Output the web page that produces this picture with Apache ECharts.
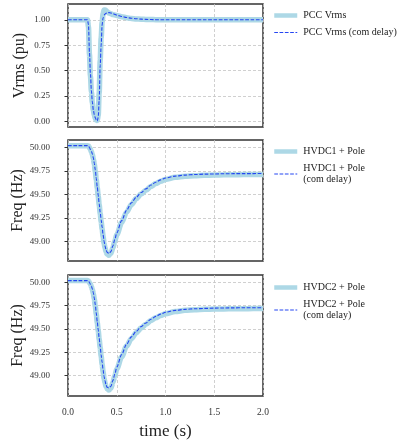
<!DOCTYPE html>
<html>
<head>
<meta charset="utf-8">
<script src="https://cdn.jsdelivr.net/npm/echarts@6/dist/echarts.min.js"></script>
<style>
  html, body { margin: 0; padding: 0; background: #fff; }
  #chart { width: 406px; height: 441px; }
</style>
</head>
<body>
<div id="chart"></div>
<script>
// Simulation time (s)
const time = [0, 0.1, 0.2, 0.21, 0.22, 0.23, 0.24, 0.25, 0.26, 0.27, 0.28, 0.29, 0.30,
  0.31, 0.32, 0.33, 0.34, 0.35, 0.36, 0.37, 0.38, 0.39, 0.40, 0.42, 0.44, 0.46, 0.48, 0.50,
  0.55, 0.60, 0.65, 0.70, 0.75, 0.80, 0.85, 0.90, 0.95, 1.00,
  1.10, 1.20, 1.30, 1.40, 1.50, 1.60, 1.70, 1.80, 1.90, 2.00];

// PCC RMS voltage (pu)
const vrms = [1.0, 1.0, 1.0, 0.93, 0.66, 0.45, 0.29, 0.18, 0.11, 0.06, 0.03, 0.012, 0.01,
  0.06, 0.28, 0.60, 0.82, 0.98, 1.06, 1.095, 1.097, 1.09, 1.08, 1.066, 1.058, 1.052, 1.047, 1.042,
  1.03, 1.02, 1.013, 1.008, 1.005, 1.003, 1.002, 1.001, 1.0, 1.0,
  1.0, 1.0, 1.0, 1.0, 1.0, 1.0, 1.0, 1.0, 1.0, 1.0];
const vrmsDelay = [1.0, 1.0, 1.0, 0.95, 0.68, 0.47, 0.30, 0.19, 0.11, 0.065, 0.035, 0.015, 0.005,
  0.04, 0.21, 0.55, 0.75, 0.95, 1.02, 1.045, 1.056, 1.064, 1.069, 1.07, 1.066, 1.06, 1.053, 1.046,
  1.032, 1.022, 1.015, 1.01, 1.006, 1.004, 1.002, 1.001, 1.0, 1.0,
  1.0, 1.0, 1.0, 1.0, 1.0, 1.0, 1.0, 1.0, 1.0, 1.0];

// HVDC1 + Pole frequency (Hz)
const freq1 = [50.02, 50.02, 50.02, 50.015, 50.0, 49.98, 49.955, 49.925, 49.88, 49.82, 49.745, 49.66, 49.57,
  49.48, 49.39, 49.30, 49.21, 49.13, 49.05, 48.98, 48.93, 48.89, 48.865, 48.85, 48.87, 48.93, 49.0, 49.07,
  49.2, 49.31, 49.39, 49.455, 49.505, 49.545, 49.585, 49.615, 49.64, 49.66,
  49.682, 49.694, 49.70, 49.704, 49.707, 49.709, 49.71, 49.711, 49.712, 49.712];
const freq1Delay = [50.02, 50.02, 50.02, 50.015, 50.0, 49.98, 49.96, 49.93, 49.89, 49.83, 49.76, 49.67, 49.58,
  49.49, 49.40, 49.31, 49.23, 49.15, 49.07, 49.0, 48.95, 48.91, 48.885, 48.87, 48.89, 48.95, 49.02, 49.09,
  49.22, 49.33, 49.41, 49.47, 49.52, 49.56, 49.60, 49.63, 49.655, 49.675,
  49.695, 49.706, 49.712, 49.716, 49.718, 49.72, 49.721, 49.722, 49.722, 49.723];

// HVDC2 + Pole frequency (Hz)
const freq2 = [50.02, 50.02, 50.02, 50.015, 50.0, 49.98, 49.955, 49.925, 49.88, 49.82, 49.745, 49.66, 49.57,
  49.48, 49.39, 49.30, 49.21, 49.12, 49.04, 48.97, 48.92, 48.88, 48.86, 48.845, 48.865, 48.925, 48.995, 49.07,
  49.2, 49.315, 49.395, 49.46, 49.51, 49.55, 49.59, 49.62, 49.645, 49.665,
  49.688, 49.70, 49.707, 49.711, 49.714, 49.716, 49.717, 49.718, 49.719, 49.719];
const freq2Delay = [50.02, 50.02, 50.02, 50.015, 50.0, 49.98, 49.96, 49.93, 49.89, 49.83, 49.76, 49.67, 49.58,
  49.49, 49.40, 49.31, 49.22, 49.14, 49.06, 48.99, 48.94, 48.9, 48.875, 48.865, 48.885, 48.945, 49.015, 49.09,
  49.225, 49.335, 49.415, 49.475, 49.525, 49.565, 49.605, 49.635, 49.66, 49.68,
  49.70, 49.711, 49.717, 49.721, 49.724, 49.726, 49.727, 49.728, 49.728, 49.729];

// Axis ticks
const vrmsTicks = [0, 0.25, 0.5, 0.75, 1.0];
const freqTicks = [49.0, 49.25, 49.5, 49.75, 50.0];

const SERIF = '"Liberation Serif", "DejaVu Serif", serif';
const LIGHT = '#add8e6';
const BLUE = '#2546f2';
const DASH = [3.7, 1.6];
const zip = (ys) => time.map((t, i) => [t, ys[i]]);

const grids = [
  { left: 68, width: 195, top: 4, height: 123 },
  { left: 68, width: 195, top: 140, height: 121 },
  { left: 68, width: 195, top: 275, height: 122 }
].map(g => Object.assign(g, { show: true, borderColor: '#333', borderWidth: 1.5, backgroundColor: 'transparent' }));

const gridLine = { show: true, lineStyle: { color: '#c4c4c4', type: [3, 2], width: 0.8 } };

function xAxis(idx, showLabels) {
  return {
    type: 'value', gridIndex: idx, min: 0, max: 2, interval: 0.5,
    axisLine: { show: false },
    axisTick: { show: false },
    axisLabel: {
      show: showLabels, margin: 11, fontFamily: SERIF, fontSize: 9.5, color: '#333',
      formatter: v => v.toFixed(1)
    },
    splitLine: gridLine,
    name: showLabels ? 'time (s)' : '', nameLocation: 'middle', nameGap: 27,
    nameTextStyle: { fontFamily: SERIF, fontSize: 17, color: '#222' }
  };
}

function yAxis(idx, name, min, max, ticks) {
  return {
    type: 'value', gridIndex: idx, min: min, max: max,
    axisLine: { show: false },
    axisTick: { show: true, inside: false, length: 3.5, customValues: ticks, lineStyle: { color: '#333', width: 1 } },
    axisLabel: {
      customValues: ticks, margin: 18, fontFamily: SERIF, fontSize: 9, color: '#333',
      formatter: v => v.toFixed(2)
    },
    splitLine: gridLine,
    name: name, nameLocation: 'middle', nameGap: 40,
    nameTextStyle: { fontFamily: SERIF, fontSize: 16, color: '#222' }
  };
}

function solid(name, data, idx) {
  return {
    type: 'line', name: name, xAxisIndex: idx, yAxisIndex: idx, data: zip(data),
    symbol: 'none', smooth: 0.3, smoothMonotone: 'x',
    lineStyle: { color: LIGHT, width: 5.5 }, itemStyle: { color: LIGHT }, z: 2
  };
}
function dashed(name, data, idx) {
  return {
    type: 'line', name: name, xAxisIndex: idx, yAxisIndex: idx, data: zip(data),
    symbol: 'none', smooth: 0.3, smoothMonotone: 'x',
    lineStyle: { color: BLUE, width: 1.1, type: DASH }, itemStyle: { color: BLUE }, z: 3
  };
}

// Legend entries drawn as plain line samples in each series' style
function legend(top, solidName, dashedName) {
  return {
    data: [
      { name: solidName, icon: 'line', itemStyle: { color: LIGHT, borderColor: LIGHT, borderWidth: 4.5, borderType: 'solid' } },
      { name: dashedName, icon: 'line', itemStyle: { color: BLUE, borderColor: BLUE, borderWidth: 1.1, borderType: DASH } }
    ],
    left: 272, top: top, orient: 'vertical',
    itemWidth: 23, itemHeight: 11, itemGap: 6, padding: 0,
    textStyle: { fontFamily: SERIF, fontSize: 10, color: '#222', lineHeight: 11, padding: [0, 0, 0, 1] }
  };
}

const option = {
  animation: false,
  backgroundColor: '#fff',
  grid: grids,
  xAxis: [xAxis(0, false), xAxis(1, false), xAxis(2, true)],
  yAxis: [
    yAxis(0, 'Vrms (pu)', -0.055, 1.155, vrmsTicks),
    yAxis(1, 'Freq (Hz)', 48.79, 50.08, freqTicks),
    yAxis(2, 'Freq (Hz)', 48.78, 50.08, freqTicks)
  ],
  legend: [
    legend(10, 'PCC Vrms', 'PCC Vrms (com delay)'),
    legend(146, 'HVDC1 + Pole', 'HVDC1 + Pole\n(com delay)'),
    legend(282, 'HVDC2 + Pole', 'HVDC2 + Pole\n(com delay)')
  ],
  series: [
    solid('PCC Vrms', vrms, 0),
    dashed('PCC Vrms (com delay)', vrmsDelay, 0),
    solid('HVDC1 + Pole', freq1, 1),
    dashed('HVDC1 + Pole\n(com delay)', freq1Delay, 1),
    solid('HVDC2 + Pole', freq2, 2),
    dashed('HVDC2 + Pole\n(com delay)', freq2Delay, 2)
  ]
};

echarts.init(document.getElementById('chart'), null, { renderer: 'canvas' }).setOption(option);
</script>
</body>
</html>
